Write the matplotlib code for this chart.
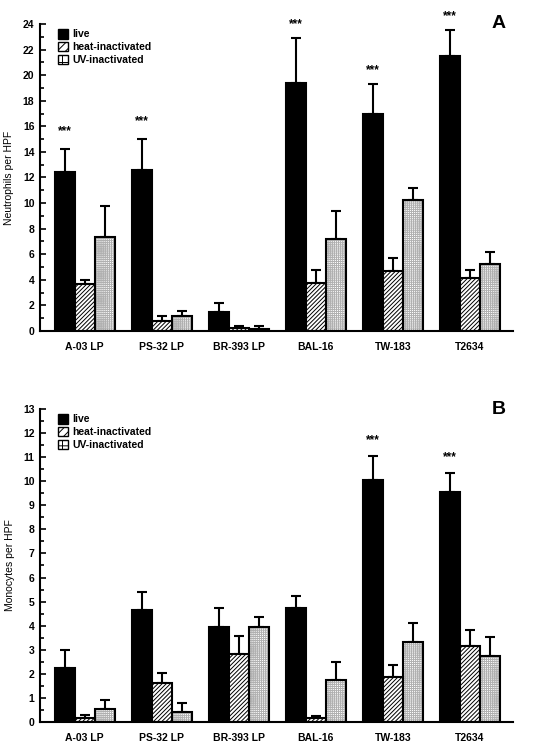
import numpy as np
import matplotlib
matplotlib.use('Agg')
import matplotlib.pyplot as plt
from matplotlib.patches import Patch
from matplotlib.ticker import MultipleLocator

plt.rcParams['font.family'] = ['Liberation Sans', 'DejaVu Sans']
plt.rcParams['hatch.linewidth'] = 0.7

#data
strains = ['A-03 LP', 'PS-32 LP', 'BR-393 LP', 'BAL-16', 'TW-183', 'T2634']
series = ['live', 'heat-inactivated', 'UV-inactivated']

neu_live = [12.4, 12.6, 1.5, 19.4, 17.0, 21.5]
neu_live_top = [14.2, 15.0, 2.2, 22.9, 19.3, 23.5]
neu_heat = [3.65, 0.75, 0.2, 3.75, 4.7, 4.15]
neu_heat_top = [4.0, 1.2, 0.4, 4.8, 5.7, 4.75]
neu_uv = [7.35, 1.2, 0.18, 7.2, 10.25, 5.25]
neu_uv_top = [9.75, 1.55, 0.37, 9.4, 11.2, 6.2]
neu_stars = [15.6, 16.4, None, 24.0, 20.4, 24.6]

mono_live = [2.25, 4.65, 3.95, 4.75, 10.05, 9.55]
mono_live_top = [3.0, 5.4, 4.72, 5.23, 11.05, 10.35]
mono_heat = [0.15, 1.62, 2.82, 0.15, 1.85, 3.15]
mono_heat_top = [0.28, 2.04, 3.58, 0.26, 2.36, 3.82]
mono_uv = [0.53, 0.43, 3.93, 1.73, 3.33, 2.76]
mono_uv_top = [0.93, 0.79, 4.34, 2.5, 4.12, 3.54]
mono_stars = [None, None, None, None, 11.7, 11.0]

fig = plt.figure(figsize=(5.45, 7.45), dpi=100)
ax1 = fig.add_axes([0.0734, 0.5557, 0.8679, 0.4121])
ax2 = fig.add_axes([0.0734, 0.0309, 0.8679, 0.4201])

w = 0.26
x = np.arange(len(strains))


def draw_panel(ax, live, live_top, heat, heat_top, uv, uv_top, stars, ymax, major, ylabel, letter):
    vals = [live, heat, uv]
    tops = [live_top, heat_top, uv_top]
    for k in range(3):
        xs = x + (k - 1) * w
        v = np.array(vals[k])
        if k == 0:
            ax.bar(xs, v, w, color='black', edgecolor='black', linewidth=1.5, zorder=2)
        elif k == 1:
            ax.bar(xs, v, w, color='white', edgecolor='black', hatch='////////', linewidth=0, zorder=2)
            ax.bar(xs, v, w, fill=False, edgecolor='black', linewidth=1.5, zorder=3)
        else:
            ax.bar(xs, v, w, color='white', edgecolor='#b0b0b0', hatch='++++++++', linewidth=0, zorder=2)
            ax.bar(xs, v, w, fill=False, edgecolor='black', linewidth=1.5, zorder=3)
        err = np.array(tops[k]) - v
        ax.errorbar(xs, v, yerr=[np.zeros_like(err), err], fmt='none', ecolor='black',
                    elinewidth=1.5, capsize=3.5, capthick=1.5, zorder=1)
    for i, s in enumerate(stars):
        if s is not None:
            ax.text(x[i] - w, s, '***', ha='center', va='center', fontsize=8.5, fontweight='bold')

    ax.set_xlim(-0.58, 5.56)
    ax.set_ylim(0, ymax)
    ax.yaxis.set_major_locator(MultipleLocator(major))
    ax.yaxis.set_minor_locator(MultipleLocator(major / 2))
    ax.tick_params(axis='y', which='major', direction='in', length=4, width=1.2, labelsize=7.5, pad=4)
    ax.tick_params(axis='y', which='minor', direction='in', length=3, width=1.2)
    ax.set_xticks(x)
    ax.set_xticklabels(strains, fontsize=7.5, fontweight='bold')
    ax.tick_params(axis='x', length=0, pad=8)
    for lab in ax.get_yticklabels():
        lab.set_fontweight('bold')
    ax.spines['top'].set_visible(False)
    ax.spines['right'].set_visible(False)
    ax.spines['left'].set_linewidth(1.5)
    ax.spines['bottom'].set_linewidth(1.5)
    ax.set_ylabel(ylabel, fontsize=7.5, labelpad=6)
    ax.text(0.985, 1.0, letter, transform=ax.transAxes, ha='right', va='center',
            fontsize=14, fontweight='bold')

    handles = [Patch(facecolor='black', edgecolor='black'),
               Patch(facecolor='white', edgecolor='black', hatch='////'),
               Patch(facecolor='white', edgecolor='black', hatch='++')]
    ax.legend(handles, series, loc='upper left', bbox_to_anchor=(0.02, 1.01), frameon=False,
              handlelength=1.0, handleheight=1.0, handletextpad=0.4, labelspacing=0.25,
              borderpad=0.3, prop={'size': 7.5, 'weight': 'bold'})


draw_panel(ax1, neu_live, neu_live_top, neu_heat, neu_heat_top, neu_uv, neu_uv_top,
           neu_stars, 24, 2, 'Neutrophils per HPF', 'A')
draw_panel(ax2, mono_live, mono_live_top, mono_heat, mono_heat_top, mono_uv, mono_uv_top,
           mono_stars, 13, 1, 'Monocytes per HPF', 'B')

plt.savefig('out.png', dpi=100)
